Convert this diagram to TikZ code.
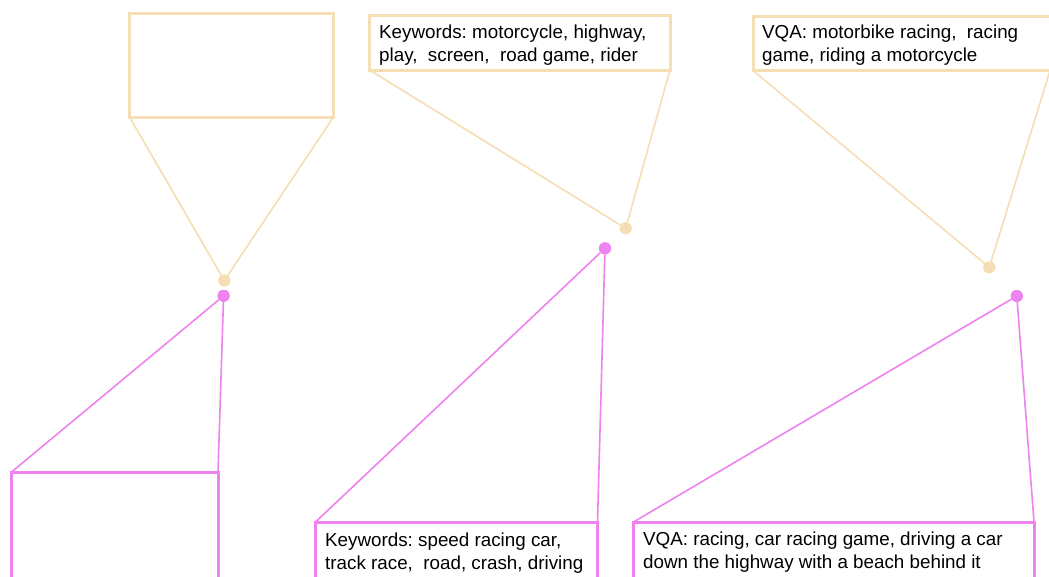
\documentclass[tikz,border=0pt]{standalone}
\usepackage{fontspec}
\setmainfont{Liberation Sans}
\definecolor{beige}{RGB}{245,222,179}
\definecolor{pinkv}{RGB}{238,130,238}
\frenchspacing
\begin{document}
\begin{tikzpicture}[x=1pt,y=-1pt,
  boxbeige/.style={draw=beige,line width=3pt,rectangle,inner sep=0pt,outer sep=0pt,fill=none},
  boxpink/.style={draw=pinkv,line width=3pt,rectangle,inner sep=0pt,outer sep=0pt,fill=none},
  dotbeige/.style={circle,fill=beige,draw=none,minimum size=12pt,inner sep=0pt},
  dotpink/.style={circle,fill=pinkv,draw=none,minimum size=12pt,inner sep=0pt},
  linkbeige/.style={draw=beige,line width=1.6pt},
  linkpink/.style={draw=pinkv,line width=1.6pt},
  label/.style={anchor=north west,inner sep=0pt,align=left,text=black,
    font=\fontsize{18.8}{23}\selectfont}]
\useasboundingbox (0,0) rectangle (1049,576);
\clip (0,0) rectangle (1049,576);
\fill[white] (0,0) rectangle (1049,576);

% boxes
\node[boxbeige,minimum width=204pt,minimum height=103.5pt] (ta) at (231.5,65.25) {};
\node[boxbeige,minimum width=300.5pt,minimum height=54.5pt] (tb) at (519.75,42.75) {};
\node[boxbeige,minimum width=297pt,minimum height=54.5pt] (tc) at (901.5,43.25) {};
\node[boxpink,minimum width=206.5pt,minimum height=148pt] (ba) at (114.75,546) {};
\node[boxpink,minimum width=282pt,minimum height=98pt] (bb) at (456.5,571) {};
\node[boxpink,minimum width=400.5pt,minimum height=98pt] (bc) at (833.75,571) {};

% dots
\node[dotbeige] (da) at (224.3,280.5) {};
\node[dotpink] (pa) at (223.6,295.8) {};
\node[dotbeige] (db) at (625.7,228.3) {};
\node[dotpink] (pb) at (605,248.3) {};
\node[dotbeige] (dc) at (989.3,267.3) {};
\node[dotpink] (pc) at (1016.8,296) {};

% connectors
\draw[linkbeige] (ta.south west) -- (da);
\draw[linkbeige] (ta.south east) -- (da);
\draw[linkbeige] (tb.south west) -- (db);
\draw[linkbeige] (tb.south east) -- (db);
\draw[linkbeige] (tc.south west) -- (dc);
\draw[linkbeige] (tc.south east) -- (dc);
\draw[linkpink] (pa) -- (ba.north west);
\draw[linkpink] (pa) -- (ba.north east);
\draw[linkpink] (pb) -- (bb.north west);
\draw[linkpink] (pb) -- (bb.north east);
\draw[linkpink] (pc) -- (bc.north west);
\draw[linkpink] (pc) -- (bc.north east);

% redraw dots on top
\node[dotbeige] at (da) {};
\node[dotpink] at (pa) {};
\node[dotbeige] at (db) {};
\node[dotpink] at (pb) {};
\node[dotbeige] at (dc) {};
\node[dotpink] at (pc) {};

% texts
\node[label] (txb) at (379,25) {Keywords: motorcycle, highway,\\play,\ \ screen,\ \ road game, rider};
\node[label] (txc) at (762,24.5) {VQA: motorbike racing,\ \ racing\\game, riding a motorcycle};
\node[label] (txbb) at (325,533) {Keywords: speed racing car,\\track race,\ \ road, crash, driving};
\node[label] (txbc) at (643,532) {VQA: racing, car racing game, driving a car\\down the highway with a beach behind it};
\end{tikzpicture}
\end{document}
